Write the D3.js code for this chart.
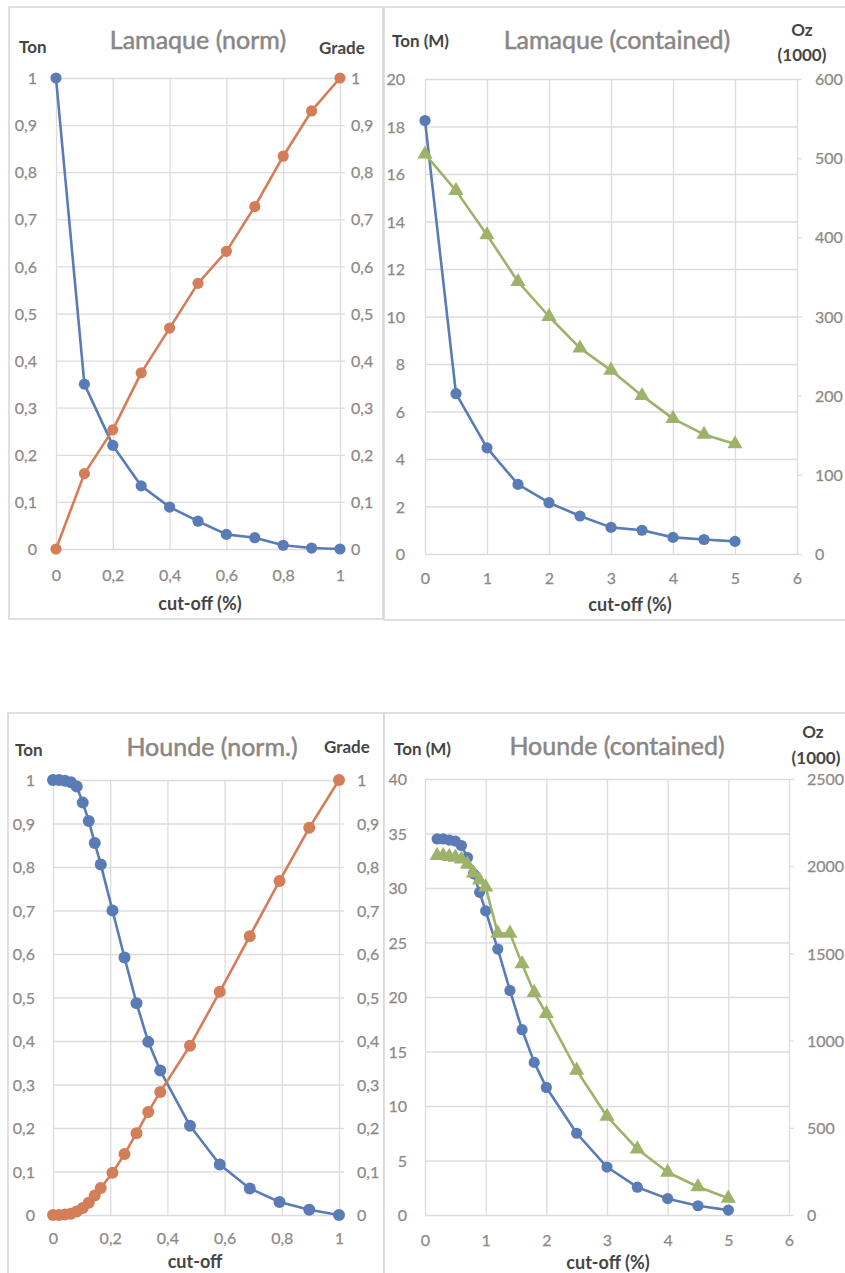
<!DOCTYPE html>
<html><head><meta charset="utf-8">
<script src="https://cdn.jsdelivr.net/npm/d3@7/dist/d3.min.js"></script>
<style>
body{margin:0;background:#fff}
svg{display:block}
text{font-family:Lato,"Open Sans",sans-serif}
</style>
</head><body>
<svg id="chart" width="845" height="1273"></svg>
<script>
// ---------- DATA ----------
// Lamaque (norm)
const lamNormCut   = [0,0.1,0.2,0.3,0.4,0.5,0.6,0.7,0.8,0.9,1];
const lamNormTon   = [1,0.35,0.22,0.134,0.089,0.059,0.031,0.024,0.008,0.002,0];
const lamNormGrade = [0,0.16,0.253,0.374,0.469,0.564,0.632,0.727,0.834,0.93,1];

// Lamaque (contained)
const lamCut  = [0,0.5,1,1.5,2,2.5,3,3.5,4,4.5,5];
const lamTonM = [18.25,6.75,4.47,2.93,2.16,1.6,1.12,1.0,0.7,0.61,0.53];
const lamOz   = [505,459,403,344,300,260,232,200,171,151,139];

// Hounde (norm.)
const houNormCut   = [0,0.021,0.042,0.0625,0.083,0.104,0.125,0.146,0.167,0.208,0.25,0.292,0.333,0.375,0.479,0.583,0.688,0.792,0.896,1];
const houNormTon   = [1,1,0.998,0.995,0.985,0.948,0.906,0.855,0.806,0.70,0.592,0.487,0.398,0.332,0.205,0.116,0.061,0.03,0.012,0];
const houNormGrade = [0,0,0.001,0.003,0.008,0.016,0.028,0.045,0.062,0.097,0.14,0.188,0.237,0.283,0.389,0.513,0.641,0.768,0.89,1];

// Hounde (contained)
const houCut  = [0.2,0.3,0.4,0.5,0.6,0.7,0.8,0.9,1.0,1.2,1.4,1.6,1.8,2.0,2.5,3,3.5,4,4.5,5];
const houTonM = [34.5,34.5,34.4,34.3,33.9,32.8,31.3,29.6,27.9,24.4,20.6,17.0,14.0,11.7,7.5,4.4,2.55,1.5,0.85,0.45];
const houOz   = [2060,2060,2055,2050,2040,2010,1960,1920,1880,1615,1615,1440,1275,1155,830,565,378,245,162,96];

// Ticks
const normYTicks = [0,0.1,0.2,0.3,0.4,0.5,0.6,0.7,0.8,0.9,1];
const normXTicks = [0,0.2,0.4,0.6,0.8,1];
const contXTicks = [0,1,2,3,4,5,6];
const lamTonTicks = [0,2,4,6,8,10,12,14,16,18,20];
const lamOzTicks  = [0,100,200,300,400,500,600];
const houTonTicks = [0,5,10,15,20,25,30,35,40];
const houOzTicks  = [0,500,1000,1500,2000,2500];

// ---------- STYLE ----------
const BLUE = "#5a7cb6", ORANGE = "#d47d59", GREEN = "#9fb26a";
const GRID = "#dcdcdc", TICKTXT = "#8e8985", TITLE = "#8a8683", AXTITLE = "#454545";

const svg = d3.select("#chart");
const loc = d3.formatLocale({decimal: ",", thousands: "", grouping: [3], currency: ["", ""]});
const fmtNorm = loc.format(".1~f");
const fmtInt = d3.format("d");

function styleTick(sel) {
  sel.attr("fill", TICKTXT).attr("font-size", 16).attr("font-family", "Lato")
     .attr("stroke", TICKTXT).attr("stroke-width", 0.25);
}

function panel(p) {
  const g = svg.append("g");
  g.append("rect").attr("x", p.frame[0]).attr("y", p.frame[1])
    .attr("width", p.frame[2]).attr("height", p.frame[3])
    .attr("fill", "#fff").attr("stroke", "#d6d6d6").attr("stroke-width", 1.5);

  const x = d3.scaleLinear().domain(p.xDomain).range([p.x0, p.x1]);
  const yL = d3.scaleLinear().domain(p.yLDomain).range([p.yb, p.yt]);
  const yR = d3.scaleLinear().domain(p.yRDomain).range([p.yb, p.yt]);

  // vertical grid + x labels
  g.append("g").attr("transform", `translate(0,${p.yb})`)
    .call(d3.axisBottom(x).tickValues(p.xTicks).tickSize(-(p.yb - p.yt)).tickFormat(p.xFmt))
    .call(a => a.select(".domain").remove())
    .call(a => a.selectAll("line").attr("stroke", GRID).attr("stroke-width", 1.3))
    .call(a => a.selectAll("text").attr("y", p.xLabY - p.yb).attr("dy", 0).call(styleTick));

  // horizontal grid + left labels
  g.append("g").attr("transform", `translate(${p.x0},0)`)
    .call(d3.axisLeft(yL).tickValues(p.yLTicks).tickSize(-(p.x1 - p.x0)).tickFormat(p.yLFmt))
    .call(a => a.select(".domain").remove())
    .call(a => a.selectAll("line").attr("stroke", GRID).attr("stroke-width", 1.3))
    .call(a => a.selectAll("text").attr("x", p.leftLabX - p.x0).attr("dy", "0.35em").call(styleTick));

  // right axis
  g.append("g").attr("transform", `translate(${p.x1},0)`)
    .call(d3.axisRight(yR).tickValues(p.yRTicks).tickSize(5).tickFormat(p.yRFmt))
    .call(a => a.select(".domain").remove())
    .call(a => a.selectAll("line").attr("stroke", GRID).attr("stroke-width", 1.3))
    .call(a => a.selectAll("text").attr("x", p.rightLabX - p.x1).attr("dy", "0.35em").call(styleTick));

  // series
  p.series.forEach(s => {
    const y = s.axis === "L" ? yL : yR;
    const pts = s.xs.map((v, i) => [x(v), y(s.ys[i])]);
    g.append("path").attr("d", d3.line()(pts)).attr("fill", "none")
      .attr("stroke", s.color).attr("stroke-width", 2.6).attr("stroke-linejoin", "round");
    if (s.marker === "circle") {
      g.selectAll(null).data(pts).join("circle")
        .attr("cx", d => d[0]).attr("cy", d => d[1]).attr("r", s.r || 5.6).attr("fill", s.color);
    } else {
      g.selectAll(null).data(pts).join("path")
        .attr("transform", d => `translate(${d[0]},${d[1]})`)
        .attr("d", d3.symbol(d3.symbolTriangle).size(100)()).attr("fill", s.color);
    }
  });

  // texts
  g.append("text").attr("x", p.title[1]).attr("y", p.title[2]).attr("text-anchor", "middle")
    .attr("font-size", 25).attr("fill", TITLE).attr("stroke", TITLE).attr("stroke-width", 0.5)
    .text(p.title[0]);
  p.labels.forEach(l => {
    g.append("text").attr("x", l[1]).attr("y", l[2]).attr("text-anchor", l[3] || "start")
      .attr("font-size", l[4] || 17).attr("font-weight", "bold").attr("fill", AXTITLE).text(l[0]);
  });
}

// Lamaque (norm)
panel({
  frame: [9, 7, 374, 612],
  xDomain: [0, 1], yLDomain: [0, 1], yRDomain: [0, 1],
  x0: 56, x1: 340, yb: 549, yt: 78,
  xTicks: normXTicks, xFmt: fmtNorm, xLabY: 581,
  yLTicks: normYTicks, yLFmt: fmtNorm, leftLabX: 37,
  yRTicks: normYTicks, yRFmt: fmtNorm, rightLabX: 351,
  series: [
    {xs: lamNormCut, ys: lamNormTon, axis: "L", color: BLUE, marker: "circle"},
    {xs: lamNormCut, ys: lamNormGrade, axis: "R", color: ORANGE, marker: "circle"}
  ],
  title: ["Lamaque (norm)", 198, 49],
  labels: [["Ton", 19, 53], ["Grade", 319, 54], ["cut-off (%)", 200, 610, "middle", 18]]
});

// Lamaque (contained)
panel({
  frame: [384, 7, 470, 613],
  xDomain: [0, 6], yLDomain: [0, 20], yRDomain: [0, 600],
  x0: 425, x1: 797, yb: 554, yt: 79,
  xTicks: contXTicks, xFmt: fmtInt, xLabY: 584,
  yLTicks: lamTonTicks, yLFmt: fmtInt, leftLabX: 405,
  yRTicks: lamOzTicks, yRFmt: fmtInt, rightLabX: 815,
  series: [
    {xs: lamCut, ys: lamTonM, axis: "L", color: BLUE, marker: "circle"},
    {xs: lamCut, ys: lamOz, axis: "R", color: GREEN, marker: "triangle"}
  ],
  title: ["Lamaque (contained)", 617, 49],
  labels: [["Ton (M)", 392, 47], ["Oz", 802, 36, "middle"], ["(1000)", 802, 61, "middle"], ["cut-off (%)", 630, 611, "middle", 18]]
});

// Hounde (norm.)
panel({
  frame: [8, 713, 376, 570],
  xDomain: [0, 1], yLDomain: [0, 1], yRDomain: [0, 1],
  x0: 53, x1: 339, yb: 1215, yt: 780,
  xTicks: normXTicks, xFmt: fmtNorm, xLabY: 1244,
  yLTicks: normYTicks, yLFmt: fmtNorm, leftLabX: 35,
  yRTicks: normYTicks, yRFmt: fmtNorm, rightLabX: 357,
  series: [
    {xs: houNormCut, ys: houNormTon, axis: "L", color: BLUE, marker: "circle", r: 6},
    {xs: houNormCut, ys: houNormGrade, axis: "R", color: ORANGE, marker: "circle", r: 6}
  ],
  title: ["Hounde (norm.)", 212, 756],
  labels: [["Ton", 15, 756], ["Grade", 324, 753], ["cut-off", 195, 1268, "middle", 18]]
});

// Hounde (contained)
panel({
  frame: [384, 713, 470, 570],
  xDomain: [0, 6], yLDomain: [0, 40], yRDomain: [0, 2500],
  x0: 425, x1: 789, yb: 1215, yt: 779,
  xTicks: contXTicks, xFmt: fmtInt, xLabY: 1246,
  yLTicks: houTonTicks, yLFmt: fmtInt, leftLabX: 407,
  yRTicks: houOzTicks, yRFmt: fmtInt, rightLabX: 807,
  series: [
    {xs: houCut, ys: houTonM, axis: "L", color: BLUE, marker: "circle"},
    {xs: houCut, ys: houOz, axis: "R", color: GREEN, marker: "triangle"}
  ],
  title: ["Hounde (contained)", 617, 755],
  labels: [["Ton (M)", 394, 755], ["Oz", 813, 738, "middle"], ["(1000)", 816, 764, "middle"], ["cut-off (%)", 608, 1269, "middle", 18]]
});
</script>
</body></html>
